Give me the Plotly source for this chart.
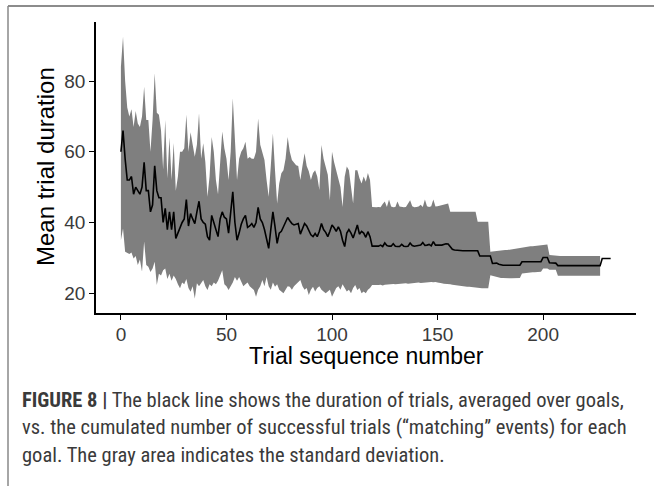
import plotly.graph_objects as go

# ---- data ----
mean_vals = [
    60, 66, 58, 52, 52, 53, 48, 50, 49, 48,
    50, 57, 49, 49, 43, 45, 56, 49, 47, 47,
    40, 44, 38, 43, 38, 43, 35.5, 37, 39, 40,
    41, 46.5, 39, 42.5, 41, 39.7, 43, 46, 41, 40,
    39.5, 36, 35, 42, 40, 38, 36, 41, 43, 41.5,
    41, 37, 42, 48.7, 40, 35, 37, 39.5, 41, 42,
    38.6, 39, 39.7, 38.6, 40, 44.3, 41, 40, 38, 35,
    32.7, 38, 43, 38.8, 34.1, 37, 37.5, 38.8, 40, 41.4,
    40.5, 39.7, 39.3, 39.5, 39.7, 36.7, 38, 39.7, 39, 37.9,
    36.5, 36, 36.9, 36, 37.5, 39.7, 38, 37.2, 36, 37.5,
    39.3, 38.5, 37.5, 38.8, 37.5, 35, 33.2, 37, 38, 37,
    35.6, 37.4, 39.3, 36.7, 37.5, 37, 35.8, 37.4, 36, 33.3,
    33.3, 33.2, 33.3, 33.6, 33.2, 34.2, 33.5, 33.3, 33.3, 34.0,
    33.3, 33.2, 33.2, 33.8, 33.3, 33.2, 33.3, 34.2, 33.5, 33.3,
    33.4, 33.3, 33.6, 34.3, 33.5, 33.6, 33.8, 33.4, 34.6, 33.6,
    33.7, 33.6, 33.6, 33.8, 34.0, 33.9, 33.0, 32.4, 32.2, 32.1,
    32.0, 32.0, 32.0, 32.0, 32.0, 32.0, 32.0, 32.0, 32.0, 32.0,
    30.5, 30.5, 30.5, 30.5, 30.5, 30.5, 28.4, 28.4, 28.5, 28.2,
    28.0, 27.9, 27.9, 27.9, 27.9, 27.9, 27.9, 27.9, 27.9, 27.9,
    28.9, 28.9, 28.9, 28.9, 28.9, 28.9, 28.9, 28.9, 28.9, 28.9,
    30.1, 30.1, 30.1, 28.6, 28.5, 28.5, 28.5, 27.8, 27.8, 27.8,
    27.8, 27.8, 27.8, 27.8, 27.8, 27.8, 27.8, 27.8, 27.8, 27.8,
    27.8, 27.8, 27.8, 27.8, 27.8, 27.8, 27.8, 27.8, 29.8, 29.8,
    29.8, 29.8, 29.8,
]

upper_vals = [
    84, 92.5, 80, 72.5, 70, 72, 67, 71.5, 68, 67,
    70, 78.4, 69, 69, 60, 69, 82.2, 71, 70.5, 66,
    55, 69, 52.5, 64, 52, 62.5, 49, 53, 60, 60,
    61, 70.5, 60, 65.5, 62, 58.6, 62, 70.9, 58, 62.4,
    57, 47.3, 53, 64.2, 60, 52, 48, 58, 65.7, 61,
    58, 52, 60, 75.1, 62, 52, 58, 60, 61, 62.8,
    58, 58.5, 58, 58, 60, 69.4, 62, 59.6, 57.7, 52,
    47.3, 56, 65.2, 54.8, 45.4, 51, 53.9, 54.8, 58, 64.2,
    60, 57.7, 57, 56.2, 56, 52, 56, 59.6, 56, 54.5,
    52, 54, 54.8, 53, 49.2, 61.9, 58, 55.4, 53.5, 46.3,
    60, 57, 54.8, 52, 50, 44.4, 52.9, 55.8, 54.8, 50,
    45.4, 54.8, 54.8, 52.5, 51, 53, 51.5, 54, 52, 44.4,
    44.3, 44.3, 44.4, 44.3, 45.2, 45.9, 44.4, 46.5, 44.5, 44.3,
    44.4, 45.9, 44.5, 44.3, 44.3, 44.4, 45.2, 46.3, 44.6, 44.3,
    44.4, 44.5, 45.0, 44.4, 46.5, 44.6, 44.4, 44.6, 46.5, 44.5,
    44.6, 44.8, 45.0, 45.1, 45.2, 45.4, 43.0, 43.0, 43.1, 43.0,
    42.9, 43.0, 43.0, 43.1, 43.0, 42.9, 43.0, 43.0, 43.0, 40.2,
    40.2, 40.2, 40.2, 40.2, 40.2, 31.7, 31.8, 31.9, 31.9, 32.0,
    32.1, 32.1, 32.2, 32.2, 32.3, 32.4, 32.5, 32.6, 32.7, 33.0,
    33.0, 33.1, 33.1, 33.2, 33.3, 33.3, 33.4, 33.5, 33.5, 33.6,
    33.8, 33.8, 33.8, 30.8, 30.7, 30.7, 30.7, 30.5, 30.5, 30.5,
    30.5, 30.5, 30.5, 30.5, 30.5, 30.5, 30.5, 30.5, 30.5, 30.5,
    30.5, 30.5, 30.5, 30.5, 30.5, 30.5, 30.5, 30.5,
]

lower_vals = [
    35, 38.3, 31.7, 31.5, 31.1, 31.5, 29.8, 30.5, 28, 29.5,
    26.1, 34.6, 28, 27.5, 26, 27, 28.9, 22.3, 25.5, 25,
    26.5, 27, 24, 25.5, 23.5, 25, 24, 22.5, 21.4, 23,
    22.5, 24, 21.5, 20.4, 22, 18.5, 22.8, 22, 23, 23.7,
    22, 20.9, 22.5, 22, 23, 22.5, 23.5, 25, 26.5, 22.5,
    22, 20.9, 22, 23, 24.6, 23.5, 24.6, 23, 22, 22.5,
    23, 22, 21.5, 20.9, 19, 21, 22, 23.7, 22, 24.6,
    22, 21, 23, 21.8, 22.5, 21, 20.5, 20, 21, 22,
    21.8, 21, 22, 22.5, 23, 23.7, 22, 21, 21.5, 19.5,
    21, 21.8, 20.5, 21.5, 22, 21, 20.5, 20, 20.5, 21,
    19, 20.5, 21.5, 22, 21, 22.5, 21.5, 20.5, 21, 20,
    21.5, 22.3, 20.9, 21.5, 20, 20.5, 20, 21, 21.5, 22.3,
    22.3, 22.2, 22.3, 22.4, 22.2, 22.4, 22.5, 22.4, 22.5, 22.6,
    22.5, 22.6, 22.7, 22.6, 22.7, 22.8, 22.7, 22.8, 22.9, 22.8,
    22.9, 23.0, 22.9, 23.0, 23.1, 23.0, 23.1, 23.2, 23.1, 23.2,
    23.0, 22.8, 22.8, 22.7, 22.7, 22.6, 22.5, 22.4, 22.3, 22.2,
    22.1, 22.0, 22.0, 21.9, 21.8, 21.8, 21.7, 21.6, 21.6, 21.5,
    21.5, 21.4, 21.4, 21.4, 21.4, 25.1, 24.9, 24.7, 24.6, 24.4,
    24.3, 24.3, 24.2, 24.2, 24.2, 24.2, 24.2, 24.2, 24.2, 24.3,
    25.6, 25.7, 25.7, 25.8, 25.8, 25.9, 25.9, 26.0, 26.0, 26.1,
    27.0, 27.0, 27.0, 26.6, 26.6, 26.6, 26.6, 24.9, 24.9, 24.9,
    24.9, 24.9, 24.9, 24.9, 24.9, 24.9, 24.9, 24.9, 24.9, 24.9,
    24.9, 24.9, 24.9, 24.9, 24.9, 24.9, 24.9, 24.9,
]

x_mean = list(range(len(mean_vals)))
x_band = list(range(len(upper_vals)))

x_ticks = [0, 50, 100, 150, 200]
y_ticks = [20, 40, 60, 80]

x_title = "Trial sequence number"
y_title = "Mean trial duration"

caption_lines = [
    "<b>FIGURE 8 |</b> The black line shows the duration of trials, averaged over goals,",
    "vs. the cumulated number of successful trials (\u201cmatching\u201d events) for each",
    "goal. The gray area indicates the standard deviation.",
]

fig = go.Figure()
fig.add_trace(go.Scatter(x=x_band, y=lower_vals, mode="lines",
                         line=dict(width=0, color="#7f7f7f"),
                         showlegend=False, hoverinfo="skip"))
fig.add_trace(go.Scatter(x=x_band, y=upper_vals, mode="lines",
                         line=dict(width=0, color="#7f7f7f"),
                         fill="tonexty", fillcolor="#7f7f7f",
                         showlegend=False, hoverinfo="skip"))
fig.add_trace(go.Scatter(x=x_mean, y=mean_vals, mode="lines",
                         line=dict(width=1.6, color="black"),
                         showlegend=False))

axis_font = dict(family="Liberation Sans, Arial, sans-serif", size=19, color="#3a3a3a")
xtitle_font = dict(family="Liberation Sans, Arial, sans-serif", size=23, color="black")
ytitle_font = dict(family="Liberation Sans, Arial, sans-serif", size=24, color="black")

# plot area: x 96..636 px, y 22..313 px
L, T, W, H = 96, 22, 540, 291


def px(xp):
    return (xp - L) / W


def py(yp):
    return (T + H - yp) / H


fig.update_layout(
    width=654, height=486,
    margin=dict(l=L, r=654 - L - W, t=T, b=486 - T - H),
    paper_bgcolor="white", plot_bgcolor="white",
    xaxis=dict(range=[-11.8, 244], tickvals=x_ticks, showgrid=False, zeroline=False,
               showline=True, linecolor="black", linewidth=1.6, automargin=False,
               ticks="outside", ticklen=5, tickwidth=1.4, tickcolor="black",
               ticklabelstandoff=-2, tickfont=axis_font),
    yaxis=dict(range=[14.4, 96.7], tickvals=y_ticks, showgrid=False, zeroline=False,
               showline=True, linecolor="black", linewidth=1.6, automargin=False,
               ticks="outside", ticklen=5, tickwidth=1.4, tickcolor="black",
               tickfont=axis_font),
)

fig.add_annotation(text=x_title, xref="paper", yref="paper", x=0.5, y=py(356),
                   xanchor="center", yanchor="middle", showarrow=False, font=xtitle_font)
fig.add_annotation(text=y_title, xref="paper", yref="paper", x=px(45), y=py(167),
                   xanchor="center", yanchor="middle", textangle=-90,
                   showarrow=False, font=ytitle_font)

# page frame lines (top and left)
fig.add_shape(type="line", xref="paper", yref="paper",
              x0=px(8), x1=px(660), y0=py(6), y1=py(6),
              line=dict(color="#666666", width=1.5))
fig.add_shape(type="line", xref="paper", yref="paper",
              x0=px(8), x1=px(8), y0=py(6), y1=py(490),
              line=dict(color="#888888", width=1.5))

cap_font = dict(family="Liberation Sans Narrow, Arial Narrow, Roboto Condensed, sans-serif",
                size=20.5, color="#3a3a3a")
for line, yp in zip(caption_lines, [400, 427, 455]):
    fig.add_annotation(text=line, xref="paper", yref="paper",
                       x=px(20), y=py(yp),
                       xanchor="left", yanchor="middle", showarrow=False,
                       align="left", font=cap_font)

fig.write_html("out.html", config={"displayModeBar": False},
               post_script="document.body.style.margin='0';document.body.style.overflow='hidden';")
